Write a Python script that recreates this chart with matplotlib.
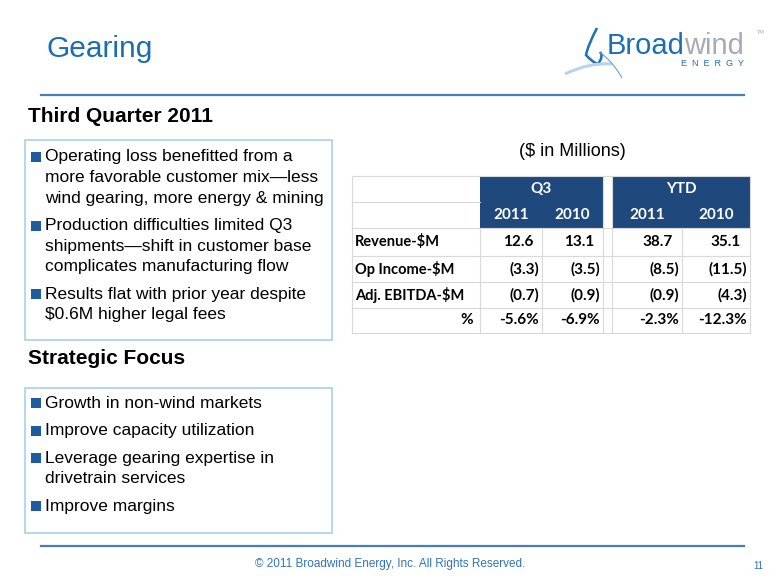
import matplotlib.pyplot as plt
from matplotlib.patches import Rectangle, PathPatch
from matplotlib.path import Path

# table data ($ in millions)
row_labels = ['Revenue-$M', 'Op Income-$M', 'Adj. EBITDA-$M', '%']
col_groups = ['Q3', 'YTD']
col_years = ['2011', '2010', '2011', '2010']
q3_2011 = [12.6, -3.3, -0.7, -5.6]
q3_2010 = [13.1, -3.5, -0.9, -6.9]
ytd_2011 = [38.7, -8.5, -0.9, -2.3]
ytd_2010 = [35.1, -11.5, -4.3, -12.3]

bullets_q3 = [
    ['Operating loss benefitted from a', 'more favorable customer mix\u2014less', 'wind gearing, more energy & mining'],
    ['Production difficulties limited Q3', 'shipments\u2014shift in customer base', 'complicates manufacturing flow'],
    ['Results flat with prior year despite', '$0.6M higher legal fees'],
]
bullets_focus = [
    ['Growth in non-wind markets'],
    ['Improve capacity utilization'],
    ['Leverage gearing expertise in', 'drivetrain services'],
    ['Improve margins'],
]

BLUE_TITLE = '#1b6db3'
LINE_BLUE = '#4a7ebb'
BOX_BLUE = '#a9cfe8'
SQ_BLUE = '#1f5c9e'
HEAD_BLUE = '#1f497d'
GRID = '#d9d9d9'

fig = plt.figure(figsize=(7.8, 5.85), dpi=100)
ax = fig.add_axes([0, 0, 1, 1])
ax.set_xlim(0, 780)
ax.set_ylim(585, 0)
ax.axis('off')

# header
ax.text(47, 49, 'Gearing', fontsize=21.5, color=BLUE_TITLE, family='Liberation Sans', va='center', ha='left')
ax.plot([41, 744], [95, 95], color=LINE_BLUE, lw=1.6)
ax.plot([41, 744], [546, 546], color=LINE_BLUE, lw=1.6)

# logo
broad = ax.text(607, 46, 'Broad', fontsize=21, color='#1c6fb5', family='Liberation Sans', va='center', ha='left')
fig.canvas.draw()
bb = broad.get_window_extent().transformed(ax.transData.inverted())
ax.text(max(bb.x0, bb.x1) - 1, 46, 'wind', fontsize=21, color='#a6acb3', family='Liberation Sans',
        va='center', ha='left')
ax.text(756, 33, 'TM', fontsize=4, color='#a6acb3', va='center', ha='left')
ax.text(712, 64, 'E  N  E  R  G  Y', fontsize=6.5, color='#1c6fb5', va='center', ha='center', family='Liberation Sans')
stem = Path([(597, 28), (588, 45), (586, 55), (592, 62), (598, 64), (604, 56), (600, 52)],
            [Path.MOVETO, Path.CURVE3, Path.CURVE3, Path.CURVE3, Path.CURVE3, Path.CURVE3, Path.CURVE3])
ax.add_patch(PathPatch(stem, fill=False, edgecolor='#1c6fb5', lw=1.8))
tail = Path([(565, 74), (590, 62), (612, 64)], [Path.MOVETO, Path.CURVE3, Path.CURVE3])
ax.add_patch(PathPatch(tail, fill=False, edgecolor='#b9d3ea', lw=2.2))
blade = Path([(599, 52), (612, 60), (622, 78)], [Path.MOVETO, Path.CURVE3, Path.CURVE3])
ax.add_patch(PathPatch(blade, fill=False, edgecolor='#6f9fcf', lw=0.8))

# section headings
ax.text(28, 117, 'Third Quarter 2011', fontsize=15, fontweight='bold', family='Liberation Sans', va='center')
ax.text(28, 358, 'Strategic Focus', fontsize=15, fontweight='bold', family='Liberation Sans', va='center')


def bullet_box(top, bottom, items, first_y, line_h, gap):
    ax.add_patch(Rectangle((25, top), 307, bottom - top, fill=False, edgecolor=BOX_BLUE, lw=1.2))
    y = first_y
    for lines in items:
        ax.add_patch(Rectangle((31, y - 5), 10, 10, facecolor=SQ_BLUE, edgecolor='none'))
        for ln in lines:
            ax.text(45, y, ln, fontsize=12.5, family='Liberation Sans', va='center', ha='left')
            y += line_h
        y += gap


bullet_box(140, 340, bullets_q3, 157, 20.7, 6.5)
bullet_box(388, 533, bullets_focus, 403, 20.5, 7)

# table
ax.text(572, 151, '($ in Millions)', fontsize=13, family='Liberation Sans', va='center', ha='center')

col_edges = [(480, 542), (542, 603), (612, 682), (682, 750)]
label_x0 = 352
top, mid, head_bot = 176, 202, 228
row_edges = [228, 256, 282, 308, 333]

# header fills
ax.add_patch(Rectangle((480, top), 603 - 480, head_bot - top, facecolor=HEAD_BLUE, edgecolor='none'))
ax.add_patch(Rectangle((612, top), 750 - 612, head_bot - top, facecolor=HEAD_BLUE, edgecolor='none'))

# grid
ax.add_patch(Rectangle((label_x0, top), 750 - label_x0, row_edges[-1] - top, fill=False, edgecolor=GRID, lw=0.8))
ax.plot([label_x0, 480], [mid, mid], color=GRID, lw=0.8)
for ye in row_edges[:-1]:
    ax.plot([label_x0, 750], [ye, ye], color=GRID, lw=0.8)
for xe in [480, 542, 603, 612, 682]:
    ax.plot([xe, xe], [head_bot, row_edges[-1]], color=GRID, lw=0.8)
ax.plot([603, 603], [top, head_bot], color=GRID, lw=0.8)
ax.plot([612, 612], [top, head_bot], color=GRID, lw=0.8)

tfont = dict(family='Lato', fontweight='bold', fontsize=11)
ax.text(541, 189, col_groups[0], color='white', ha='center', va='center', **tfont)
ax.text(681, 189, col_groups[1], color='white', ha='center', va='center', **tfont)
for (x0, x1), yr in zip(col_edges, col_years):
    ax.text((x0 + x1) / 2, 215, yr, color='white', ha='center', va='center', **tfont)

columns = [q3_2011, q3_2010, ytd_2011, ytd_2010]
for i, lab in enumerate(row_labels):
    yc = (row_edges[i] + row_edges[i + 1]) / 2
    if lab == '%':
        ax.text(473, yc, lab, ha='right', va='center', **tfont)
    else:
        ax.text(355, yc, lab, ha='left', va='center', family='Lato', fontweight='bold', fontsize=10.5)
    for (x0, x1), col in zip(col_edges, columns):
        v = col[i]
        if lab == '%':
            s, xr = '%.1f%%' % v, x1 - 3
        elif v < 0:
            s, xr = '(%.1f)' % abs(v), x1 - 3
        else:
            s, xr = '%.1f' % v, x1 - 9
        ax.text(xr, yc, s, ha='right', va='center', **tfont)

# footer
ax.text(390, 564, '\u00a9 2011 Broadwind Energy, Inc. All Rights Reserved.', fontsize=8.5,
        color='#2e75b6', family='Liberation Sans', ha='center', va='center')
ax.text(758, 566, '11', fontsize=7, color='#2e75b6', family='Liberation Sans', ha='center', va='center')

fig.savefig('out.png', dpi=100)
